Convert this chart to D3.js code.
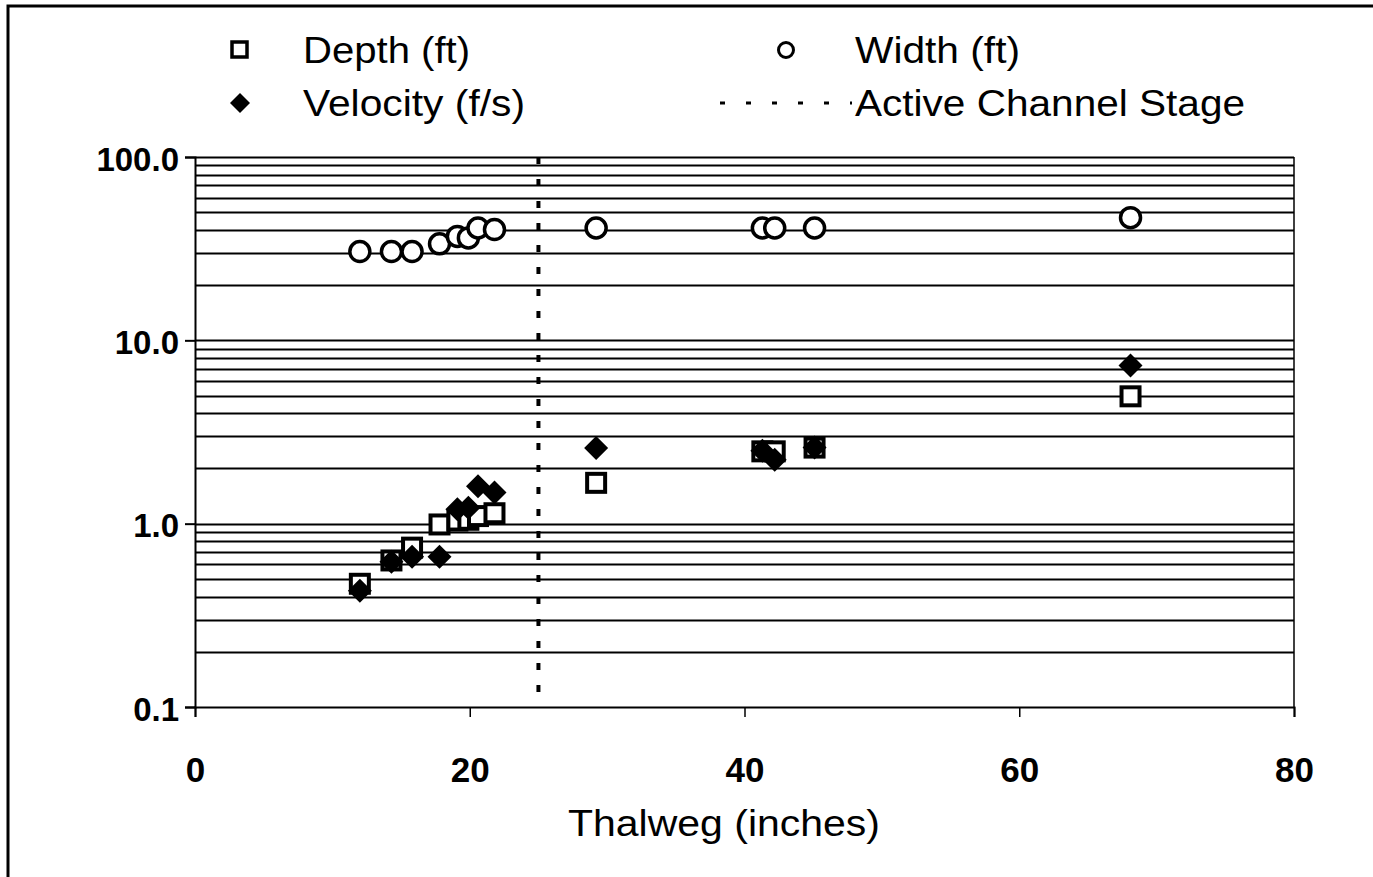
<!DOCTYPE html>
<html><head><meta charset="utf-8">
<script src="https://cdn.jsdelivr.net/npm/d3@7"></script>
<style>html,body{margin:0;padding:0;background:#fff;}svg{display:block;font-family:"Liberation Sans",Arial,sans-serif;}</style>
</head><body>
<svg id="c" width="1373" height="877"></svg>
<script>
const thalweg  = [12, 14.3, 15.8, 17.8, 19.1, 19.9, 20.6, 21.8, 29.2, 41.3, 42.2, 45.1, 68.1];
const depth    = [0.47, 0.63, 0.74, 0.99, 1.04, 1.05, 1.10, 1.14, 1.67, 2.48, 2.48, 2.6, 4.95];
const velocity = [0.43, 0.62, 0.66, 0.66, 1.2, 1.22, 1.6, 1.48, 2.59, 2.5, 2.23, 2.6, 7.28];
const width    = [30.5, 30.5, 30.5, 33.6, 36.9, 36.2, 41.0, 40.2, 41, 41, 41, 41, 46.7];
const activeChannelStage = 25;
const xTicks = [0, 20, 40, 60, 80];
const yTicks = [0.1, 1, 10, 100];
const yTickLabels = ["0.1", "1.0", "10.0", "100.0"];
const legendItems = ["Depth (ft)", "Width (ft)", "Velocity (f/s)", "Active Channel Stage"];
const xTitle = "Thalweg (inches)";

const svg = d3.select("#c");
const x = d3.scaleLinear().domain([0, 80]).range([195, 1294]);
const y = d3.scaleLog().domain([0.1, 100]).range([707, 157]);

// outer frame
svg.append("path").attr("d", "M8,877 V6 H1373").attr("fill", "none").attr("stroke", "#000").attr("stroke-width", 3);

// gridlines at all minor log values
const grid = [];
for (let e = -1; e < 2; e++) for (let m = 2; m <= 10; m++) grid.push(m * Math.pow(10, e));
svg.append("g").selectAll("line").data(grid).join("line")
  .attr("x1", x(0)).attr("x2", x(80))
  .attr("y1", d => Math.round(y(d)) + 0.5).attr("y2", d => Math.round(y(d)) + 0.5)
  .attr("stroke", "#000").attr("stroke-width", 1.8);

// plot border (right)
svg.append("line").attr("x1", x(80)).attr("x2", x(80)).attr("y1", y(100)).attr("y2", y(0.1))
  .attr("stroke", "#000").attr("stroke-width", 1.5);

// axes
const yAxis = d3.axisLeft(y).tickValues(yTicks).tickFormat((d, i) => yTickLabels[i]).tickSize(10).tickPadding(6);
const gy = svg.append("g").attr("transform", `translate(${x(0)},0)`).call(yAxis);
gy.select(".domain").attr("stroke-width", 2);
gy.selectAll(".tick line").attr("stroke-width", 2);
gy.selectAll("text").attr("font-size", 33).attr("font-weight", "bold").attr("font-family", "Liberation Sans, Arial, sans-serif").attr("fill", "#000").attr("dy", "0.4em");

const xAxis = d3.axisBottom(x).tickValues(xTicks).tickFormat(d3.format("d")).tickSize(10).tickPadding(40);
const gx = svg.append("g").attr("transform", `translate(0,${y(0.1)})`).call(xAxis);
gx.select(".domain").attr("stroke-width", 2);
gx.selectAll(".tick line").attr("stroke-width", 1.5);
gx.selectAll("text").attr("font-size", 35).attr("font-weight", "bold").attr("font-family", "Liberation Sans, Arial, sans-serif").attr("fill", "#000");

svg.append("text").attr("x", 568).attr("y", 836)
  .attr("font-size", 37).attr("fill", "#000")
  .attr("textLength", 312).attr("lengthAdjust", "spacingAndGlyphs").text(xTitle);

// active channel stage line
svg.append("line").attr("x1", x(activeChannelStage)).attr("x2", x(activeChannelStage))
  .attr("y1", y(100)).attr("y2", y(0.1))
  .attr("stroke", "#000").attr("stroke-width", 4).attr("stroke-dasharray", "7,15");

const diamond = (cx, cy, r) => `M${cx},${cy - r}L${cx + r},${cy}L${cx},${cy + r}L${cx - r},${cy}Z`;
const pts = thalweg.map((t, i) => ({t, d: depth[i], v: velocity[i], w: width[i]}));

// depth squares
svg.append("g").selectAll("rect").data(pts).join("rect")
  .attr("x", d => x(d.t) - 9).attr("y", d => y(d.d) - 9).attr("width", 18).attr("height", 18)
  .attr("fill", "#fff").attr("stroke", "#000").attr("stroke-width", 4);
// width circles
svg.append("g").selectAll("circle").data(pts).join("circle")
  .attr("cx", d => x(d.t)).attr("cy", d => y(d.w)).attr("r", 10)
  .attr("fill", "#fff").attr("stroke", "#000").attr("stroke-width", 3.5);
// velocity diamonds
svg.append("g").selectAll("path").data(pts).join("path")
  .attr("d", d => diamond(x(d.t), y(d.v), 12)).attr("fill", "#000");

// legend
const lg = svg.append("g").attr("font-size", 37).attr("fill", "#000");
const legendWidths = [167, 165, 222, 390];
lg.append("rect").attr("x", 232).attr("y", 42).attr("width", 15).attr("height", 15).attr("fill", "#fff").attr("stroke", "#000").attr("stroke-width", 3.5);
lg.append("text").attr("x", 303).attr("y", 63).attr("textLength", legendWidths[0]).attr("lengthAdjust", "spacingAndGlyphs").text(legendItems[0]);
lg.append("circle").attr("cx", 786).attr("cy", 50).attr("r", 7.5).attr("fill", "#fff").attr("stroke", "#000").attr("stroke-width", 3);
lg.append("text").attr("x", 855).attr("y", 63).attr("textLength", legendWidths[1]).attr("lengthAdjust", "spacingAndGlyphs").text(legendItems[1]);
lg.append("path").attr("d", diamond(240, 103, 10)).attr("fill", "#000");
lg.append("text").attr("x", 303).attr("y", 116).attr("textLength", legendWidths[2]).attr("lengthAdjust", "spacingAndGlyphs").text(legendItems[2]);
lg.append("line").attr("x1", 720).attr("x2", 852).attr("y1", 103).attr("y2", 103)
  .attr("stroke", "#000").attr("stroke-width", 3).attr("stroke-dasharray", "5,21");
lg.append("text").attr("x", 855).attr("y", 116).attr("textLength", legendWidths[3]).attr("lengthAdjust", "spacingAndGlyphs").text(legendItems[3]);
</script>
</body></html>
